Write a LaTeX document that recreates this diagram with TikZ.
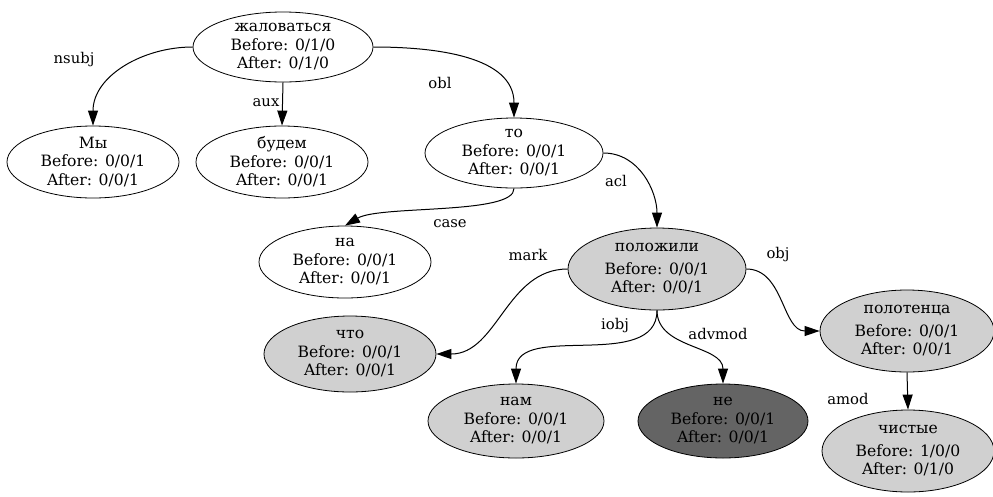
\documentclass[tikz,border=0pt]{standalone}
\usepackage{fontspec}
\setmainfont{DejaVu Serif}
\usetikzlibrary{shapes.geometric,arrows.meta}

\definecolor{lightfill}{HTML}{D0D0D0}
\definecolor{darkfill}{HTML}{646464}

\begin{document}
\begin{tikzpicture}[x=1pt,y=-1pt,
		dep/.style={draw, line width=1pt, -{Triangle[length=15pt,width=10pt]}},
		rel/.style={font=\fontsize{14.8}{17}\selectfont}]
	\useasboundingbox (0,0) rectangle (993,496);
	\begin{scope}[every node/.style = {shape=ellipse, draw, line width=0.8pt, inner sep=-4pt, align=center,
			font=\fontsize{15.6}{18.5}\selectfont}]
		\tikzstyle{small}=[minimum width=172pt, minimum height=72pt]
		\tikzstyle{tall}=[minimum width=178pt, minimum height=82pt]
		\node (zhalovatsya) [minimum width=180pt, minimum height=70pt] at (283,47) {жаловаться\\Before: 0/1/0\\After: 0/1/0};
		\node (my) [small] at (93,162) {Мы\\Before: 0/0/1\\After: 0/0/1};
		\node (budem) [small] at (282,162) {будем\\Before: 0/0/1\\After: 0/0/1};
		\node (to) [minimum width=178pt, minimum height=70pt] at (514,153) {то\\Before: 0/0/1\\After: 0/0/1};
		\node (na) [small] at (345,262) {на\\Before: 0/0/1\\After: 0/0/1};
		\node (polozhili) [tall, fill=lightfill] at (657,269) {положили\\[4pt]Before: 0/0/1\\After: 0/0/1};
		\node (chto) [small, minimum height=76pt, fill=lightfill] at (350,354) {что\\Before: 0/0/1\\After: 0/0/1};
		\node (nam) [small, minimum width=176pt, minimum height=74pt, fill=lightfill] at (516,421) {нам\\Before: 0/0/1\\After: 0/0/1};
		\node (ne) [small, minimum width=170pt, minimum height=74pt, fill=darkfill] at (723,421) {не\\Before: 0/0/1\\After: 0/0/1};
		\node (polotentsa) [tall, minimum width=174pt, fill=lightfill] at (907,331) {полотенца\\[4pt]Before: 0/0/1\\After: 0/0/1};
		\node (chistye) [tall, minimum width=172pt, fill=lightfill] at (908,451) {чистые\\[4pt]Before: 1/0/0\\After: 0/1/0};
	\end{scope}

	% dependency arcs
	\draw[dep] (zhalovatsya.west) to[out=180,in=90] (my.north);
	\draw[dep] (zhalovatsya.south) -- (budem.north);
	\draw[dep] (zhalovatsya.east) to[out=0,in=90] (to.north);
	\draw[dep] (to.south) .. controls (515,215) and (380,205) .. (na.north);
	\draw[dep] (to.east) to[out=0,in=90] (polozhili.north);
	\draw[dep] (polozhili.west) to[out=180,in=0] (chto.east);
	\draw[dep] (polozhili.south) to[out=270,in=90] (nam.north);
	\draw[dep] (polozhili.south) to[out=270,in=90] (ne.north);
	\draw[dep] (polozhili.east) to[out=0,in=180] (polotentsa.west);
	\draw[dep] (polotentsa.south) -- (chistye.north);

	% relation labels
	\node (lnsubj) [rel] at (74,60) {nsubj};
	\node (laux) [rel] at (266,103) {aux};
	\node (lobl) [rel] at (440,83) {obl};
	\node (lacl) [rel] at (616,181) {acl};
	\node (lcase) [rel] at (450,224) {case};
	\node (lmark) [rel] at (528,255) {mark};
	\node (lobj) [rel] at (778,255) {obj};
	\node (liobj) [rel] at (615,326) {iobj};
	\node (ladvmod) [rel] at (718,334) {advmod};
	\node (lamod) [rel] at (848,399) {amod};
\end{tikzpicture}
\end{document}
